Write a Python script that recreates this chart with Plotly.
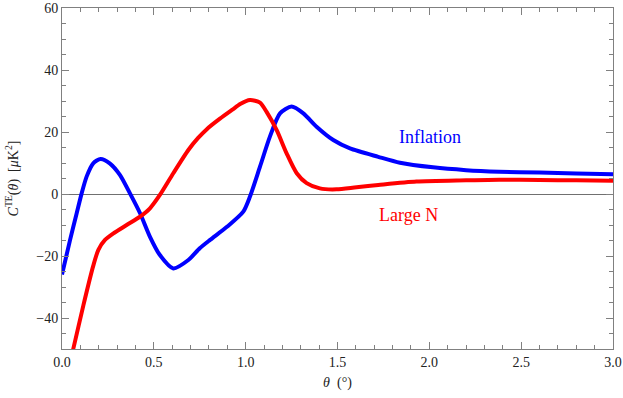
import plotly.graph_objects as go

# Inflation curve (blue)
infl_x = [0.0, 0.044, 0.08, 0.107, 0.134, 0.17, 0.21, 0.26, 0.316, 0.37, 0.425, 0.479, 0.533, 0.606, 0.688,
          0.75, 0.806, 0.9, 0.987, 1.023, 1.078, 1.132, 1.187, 1.25, 1.314, 1.386, 1.477, 1.568, 1.722, 1.84,
          2.02, 2.2, 2.38, 2.6, 2.8, 3.0]
infl_y = [-26.0, -14.8, -6.2, 0.2, 5.6, 9.9, 11.3, 9.9, 6.1, 0.2, -6.2, -13.8, -19.7, -24.0, -21.3,
          -17.5, -14.8, -10.5, -5.7, -0.9, 8.8, 18.5, 26.0, 28.2, 26.0, 21.7, 17.4, 14.7, 12.0, 10.1,
          8.6, 7.7, 7.2, 6.9, 6.6, 6.4]

# Large N curve (red)
large_x = [0.04, 0.062, 0.116, 0.17, 0.198, 0.234, 0.28, 0.352, 0.425, 0.479, 0.533, 0.606, 0.688,
           0.74, 0.79, 0.86, 0.93, 0.97, 1.023, 1.078, 1.114, 1.169, 1.223, 1.278, 1.332, 1.404, 1.495, 1.604,
           1.722, 1.93, 2.2, 2.38, 2.6, 2.8, 3.0]
large_y = [-55.0, -49.8, -36.0, -23.2, -18.0, -14.8, -12.7, -10.0, -7.3, -4.6, -0.3, 6.7, 14.2,
           18.0, 21.0, 24.3, 27.3, 29.0, 30.3, 29.5, 26.5, 20.6, 13.1, 6.7, 3.5, 1.8, 1.5, 2.2,
           2.9, 4.0, 4.4, 4.6, 4.5, 4.4, 4.3]

x_ticks = [0.0, 0.5, 1.0, 1.5, 2.0, 2.5, 3.0]
x_tick_labels = ["0.0", "0.5", "1.0", "1.5", "2.0", "2.5", "3.0"]
y_ticks = [-40, -20, 0, 20, 40, 60]
y_tick_labels = ["\u221240", "\u221220", "0", "20", "40", "60"]

serif = "Liberation Serif, Times New Roman, serif"
frame = "#808080"

fig = go.Figure()
fig.add_trace(go.Scatter(x=infl_x, y=infl_y, mode="lines", line=dict(color="#0000ff", width=4, shape="spline", smoothing=0.7),
                         showlegend=False, hoverinfo="skip"))
fig.add_trace(go.Scatter(x=large_x, y=large_y, mode="lines", line=dict(color="#ff0000", width=4, shape="spline", smoothing=0.7),
                         showlegend=False, hoverinfo="skip"))

fig.add_annotation(x=2.003, y=18.5, text="Inflation", showarrow=False, font=dict(family=serif, size=18, color="#0000ff"))
fig.add_annotation(x=1.885, y=-6.8, text="Large N", showarrow=False, font=dict(family=serif, size=18, color="#ff0000"))

fig.update_layout(
    width=623, height=398,
    margin=dict(l=62, r=10, t=8, b=49, autoexpand=False),
    paper_bgcolor="white", plot_bgcolor="white",
    font=dict(family=serif, size=14, color="#222222"),
)
fig.update_xaxes(
    range=[0, 3], tickvals=x_ticks, ticktext=x_tick_labels, automargin=False,
    showgrid=False, zeroline=False,
    showline=True, linecolor=frame, linewidth=1, mirror="allticks",
    ticks="inside", ticklen=7, tickcolor=frame, tickwidth=1,
    minor=dict(dtick=0.1, ticks="inside", ticklen=4, tickcolor=frame, showgrid=False),
    title=dict(text="<i>θ</i>  (°)", font=dict(family=serif, size=14), standoff=8),
)
fig.update_yaxes(
    range=[-50, 60], tickvals=y_ticks, ticktext=y_tick_labels, automargin=False,
    showgrid=False, zeroline=True, zerolinecolor="#707070", zerolinewidth=1,
    showline=True, linecolor=frame, linewidth=1, mirror="allticks",
    ticks="inside", ticklen=7, tickcolor=frame, tickwidth=1,
    minor=dict(dtick=5, ticks="inside", ticklen=4, tickcolor=frame, showgrid=False),
    title=dict(text="<i>C</i><sup>TE</sup>(<i>θ</i>)  [<i>μ</i>K<sup>2</sup>]", font=dict(family=serif, size=14), standoff=14),
)

fig.write_html("out.html", config={"displayModeBar": False},
               post_script="document.body.style.margin='0';")
